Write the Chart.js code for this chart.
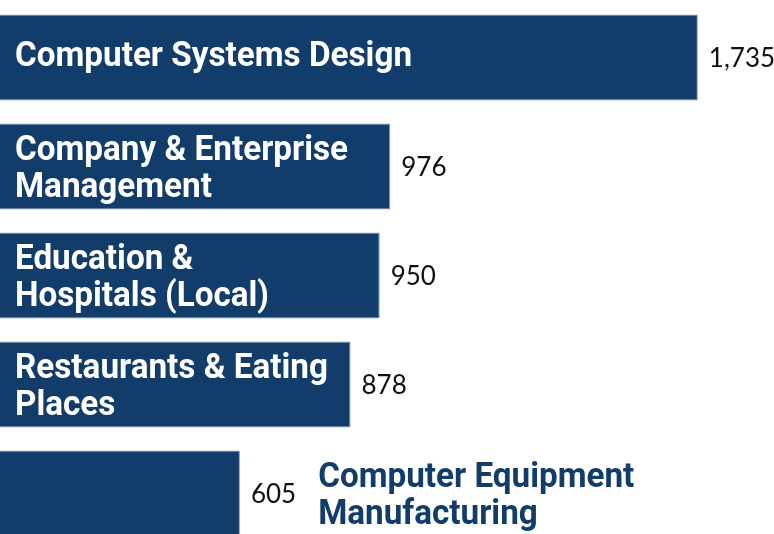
<!DOCTYPE html>
<html>
<head>
<meta charset="utf-8">
<script src="https://cdn.jsdelivr.net/npm/chart.js@4"></script>
<style>
  html, body { margin: 0; padding: 0; background: #fff; overflow: hidden; }
  #wrap { width: 774px; height: 534px; overflow: hidden; }
</style>
</head>
<body>
<div id="wrap"><canvas id="bars" width="774" height="548"></canvas></div>
<script>
const industries = [
  ['Computer Systems Design'],
  ['Company & Enterprise', 'Management'],
  ['Education &', 'Hospitals (Local)'],
  ['Restaurants & Eating', 'Places'],
  ['Computer Equipment', 'Manufacturing']
];
const jobs = [1735, 976, 950, 878, 605];

const navy = '#123d6b';

// labels inside the bar (or next to the value if the bar is short)
const barLabels = {
  id: 'barLabels',
  afterDatasetsDraw(chart) {
    const ctx = chart.ctx;
    const meta = chart.getDatasetMeta(0);
    meta.data.forEach((bar, i) => {
      const y = bar.y;
      // value
      ctx.save();
      ctx.font = '26px Lato';
      ctx.fillStyle = '#111';
      ctx.textBaseline = 'middle';
      ctx.textAlign = 'left';
      const txt = jobs[i].toLocaleString('en-US');
      ctx.fillText(txt, bar.x + 11, y + 1);
      const valW = ctx.measureText(txt).width;
      ctx.restore();

      const lines = industries[i];
      const inside = i < 4;
      const lx = inside ? 15 : bar.x + 11 + valW + 22;
      ctx.save();
      ctx.font = 'bold 35px Roboto';
      ctx.fillStyle = inside ? '#fff' : navy;
      ctx.textBaseline = 'alphabetic';
      ctx.textAlign = 'left';
      const lh = 37;
      lines.forEach((ln, k) => {
        const by = y + 12 + (k - (lines.length - 1) / 2) * lh - (lines.length == 1 ? 4 : 0);
        ctx.save();
        ctx.translate(lx, by);
        ctx.scale(0.95, 1);
        ctx.fillText(ln, 0, 0);
        ctx.restore();
      });
      ctx.restore();
    });
  }
};

new Chart(document.getElementById('bars'), {
  type: 'bar',
  data: {
    labels: industries.map(l => l.join(' ')),
    datasets: [{
      data: jobs,
      backgroundColor: navy,
      borderColor: '#7d97b4',
      borderWidth: 1,
      borderSkipped: false,
      categoryPercentage: 1,
      barPercentage: 0.79
    }]
  },
  plugins: [barLabels],
  options: {
    indexAxis: 'y',
    responsive: false,
    animation: false,
    layout: { padding: { top: 3, left: 0, right: 0, bottom: 0 } },
    plugins: { legend: { display: false }, tooltip: { enabled: false } },
    scales: {
      x: { display: false, min: 13, max: 1923 },
      y: { display: false }
    }
  }
});
</script>
</body>
</html>
